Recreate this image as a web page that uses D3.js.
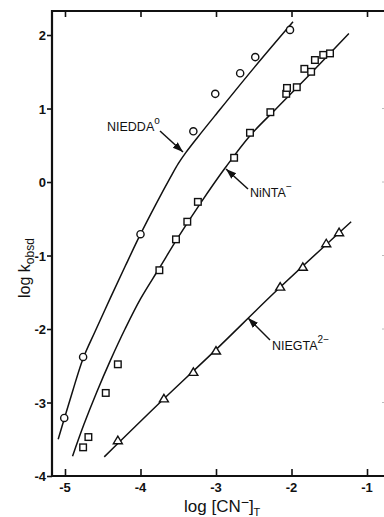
<!DOCTYPE html>
<html><head><meta charset="utf-8">
<script src="https://cdn.jsdelivr.net/npm/d3@7"></script>
<style>
html,body{margin:0;padding:0;background:#fff;}
svg text{font-family:"Liberation Sans",Arial,sans-serif;fill:#111;}
</style></head>
<body>
<svg id="c" width="384" height="517"></svg>
<script>
// ---- data ----
const xTicks = [-5, -4, -3, -2, -1];
const yTicks = [2, 1, 0, -1, -2, -3, -4];

const eddaPoints = [[-5.01,-3.21],[-4.76,-2.38],[-4.0,-0.71],[-3.30,0.69],[-3.01,1.20],[-2.68,1.48],[-2.48,1.70],[-2.02,2.07]];
const eddaCurve = [[-5.09,-3.5],[-5.0,-3.19],[-4.9,-2.85],[-4.76,-2.4],[-4.6,-2.03],[-4.4,-1.58],[-4.2,-1.14],[-4.0,-0.71],[-3.8,-0.31],[-3.6,0.07],[-3.5,0.25],[-3.4,0.40],[-3.25,0.60],[-3.0,0.92],[-2.5,1.55],[-1.98,2.18]];

const ntaPoints = [[-4.76,-3.61],[-4.69,-3.47],[-4.46,-2.87],[-4.30,-2.48],[-3.75,-1.20],[-3.53,-0.78],[-3.38,-0.54],[-3.24,-0.27],[-2.76,0.33],[-2.55,0.67],[-2.28,0.95],[-2.07,1.20],[-2.06,1.28],[-1.93,1.29],[-1.83,1.54],[-1.74,1.50],[-1.69,1.66],[-1.58,1.73],[-1.49,1.75]];
const ntaCurve = [[-4.9,-3.73],[-4.75,-3.3],[-4.58,-2.86],[-4.4,-2.43],[-4.2,-1.99],[-4.0,-1.59],[-3.75,-1.17],[-3.5,-0.75],[-3.2,-0.28],[-2.88,0.19],[-2.55,0.63],[-2.2,1.0],[-1.8,1.42],[-1.24,2.02]];

const egtaPoints = [[-4.30,-3.52],[-3.69,-2.95],[-3.30,-2.59],[-3.0,-2.30],[-2.15,-1.43],[-1.85,-1.16],[-1.54,-0.84],[-1.37,-0.69]];
const egtaCurve = [[-4.48,-3.74],[-3.69,-2.95],[-3.0,-2.28],[-2.2,-1.48],[-1.21,-0.54]];

// ---- chart ----
const svg = d3.select("#c");
const x = d3.scaleLinear().domain([-5.172, -0.775]).range([52, 384]);
const y = d3.scaleLinear().domain([2.327, -4]).range([11, 476]);

svg.append("defs").append("marker")
  .attr("id","ah").attr("viewBox","0 0 10 10").attr("refX",10).attr("refY",5)
  .attr("markerWidth",7).attr("markerHeight",7).attr("orient","auto")
  .append("path").attr("d","M0,1.5 L10,5 L0,8.5 Z").attr("fill","#111");

// axes
const gBottom = svg.append("g").attr("transform","translate(0,476)")
  .call(d3.axisTop(x).tickValues(xTicks).tickSize(7).tickFormat(""));
const gTop = svg.append("g").attr("transform","translate(0,11)")
  .call(d3.axisBottom(x).tickValues(xTicks).tickSize(6).tickFormat(""));
const gLeft = svg.append("g").attr("transform","translate(52,0)")
  .call(d3.axisLeft(y).tickValues(yTicks).tickSize(5).tickFormat(""));
[gBottom, gTop, gLeft].forEach(g=>{
  g.select(".domain").remove();
  g.selectAll(".tick line").attr("stroke","#111").attr("stroke-width",1.6);
});
svg.append("path").attr("d",`M384,11 H52 V476 H384`).attr("fill","none").attr("stroke","#111").attr("stroke-width",2.2);

// tick labels
svg.append("g").selectAll("text").data(xTicks).join("text")
  .attr("x",d=>x(d)).attr("y",492).attr("text-anchor","middle")
  .style("font-size","13px").style("font-weight","bold")
  .text(d=>d<0?"-"+Math.abs(d):d);
svg.append("g").selectAll("text").data(yTicks).join("text")
  .attr("x",46).attr("y",d=>y(d)+5).attr("text-anchor","end")
  .style("font-size","13px").style("font-weight","bold")
  .text(d=>d<0?"-"+Math.abs(d):d);

// axis titles
const xt = svg.append("text").attr("x",184).attr("y",512).style("font-size","17px");
xt.append("tspan").text("log [CN");
xt.append("tspan").text("−").attr("dy",-5).style("font-size","14px");
xt.append("tspan").text("]").attr("dy",5);
xt.append("tspan").text("T").attr("dy",4).style("font-size","11px");

const yt = svg.append("text").attr("transform","translate(30,298) rotate(-90)").style("font-size","16px");
yt.append("tspan").text("log k");
yt.append("tspan").text("obsd").attr("dy",4).style("font-size","12px");

// curves
const line = d3.line().x(d=>x(d[0])).y(d=>y(d[1])).curve(d3.curveCatmullRom.alpha(0.5));
[eddaCurve, ntaCurve, egtaCurve].forEach(c=>{
  svg.append("path").datum(c).attr("d",line).attr("fill","none").attr("stroke","#111").attr("stroke-width",1.5);
});

// markers
svg.append("g").selectAll("circle").data(eddaPoints).join("circle")
  .attr("cx",d=>x(d[0])).attr("cy",d=>y(d[1])).attr("r",3.6)
  .attr("fill","#fff").attr("stroke","#111").attr("stroke-width",1.4);
svg.append("g").selectAll("rect").data(ntaPoints).join("rect")
  .attr("x",d=>x(d[0])-3.3).attr("y",d=>y(d[1])-3.3).attr("width",6.6).attr("height",6.6)
  .attr("fill","#fff").attr("stroke","#111").attr("stroke-width",1.4);
svg.append("g").selectAll("path").data(egtaPoints).join("path")
  .attr("transform",d=>`translate(${x(d[0])},${y(d[1])})`)
  .attr("d","M-4.5,3 L4.5,3 L0,-4.5 Z")
  .attr("fill","#fff").attr("stroke","#111").attr("stroke-width",1.4);

// labels + arrows
function label(tx, ty, main, sup, ax1, ay1, ax2, ay2){
  const t = svg.append("text").attr("x",tx).attr("y",ty).style("font-size","12.5px");
  t.append("tspan").text(main);
  t.append("tspan").text(sup).attr("dy",-7).style("font-size","10px");
  svg.append("line").attr("x1",ax1).attr("y1",ay1).attr("x2",ax2).attr("y2",ay2)
    .attr("stroke","#111").attr("stroke-width",1.5).attr("marker-end","url(#ah)");
}
label(107,131,"NIEDDA","o",160,131,183,152);
label(250,197,"NiNTA","−",248,189,226,169);
label(272,350,"NIEGTA","2−",270,340,248,318);

// faint marks near right edge
svg.append("g").selectAll("rect").data([1,0,-1,-2,-3]).join("rect")
  .attr("x",382).attr("y",d=>y(d)-0.5).attr("width",2).attr("height",1).attr("fill","#bbb");
</script>
</body></html>
